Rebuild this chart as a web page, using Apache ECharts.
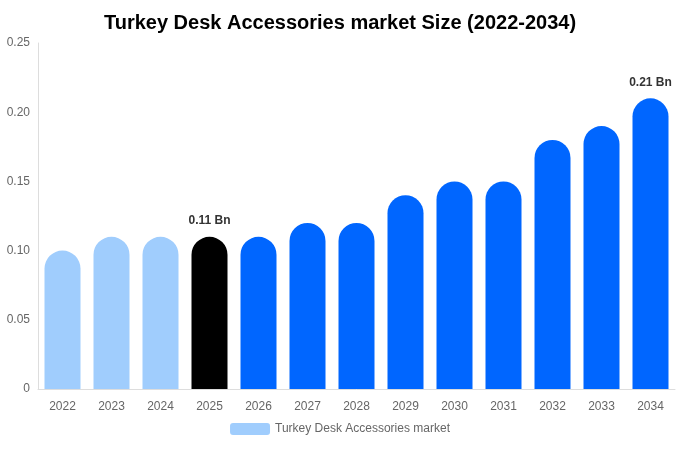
<!DOCTYPE html>
<html><head><meta charset="utf-8">
<script src="https://cdn.jsdelivr.net/npm/echarts@6/dist/echarts.min.js"></script>
<style>html,body{margin:0;padding:0;background:#fff}#c{width:680px;height:450px}</style>
</head><body><div id="c"></div>
<script>
const years = ['2022','2023','2024','2025','2026','2027','2028','2029','2030','2031','2032','2033','2034'];
const values = [0.10, 0.11, 0.11, 0.11, 0.11, 0.12, 0.12, 0.14, 0.15, 0.15, 0.18, 0.19, 0.21];
const labelled = { '2025': '0.11 Bn', '2034': '0.21 Bn' };

const colorFor = i => {
    if (i < 3) return '#a0cdfd';
    if (i === 3) return '#000000';
    return '#0066ff';
};

const chart = echarts.init(document.getElementById('c'));
chart.setOption({
    animation: false,
    title: {
        text: 'Turkey Desk Accessories market Size (2022-2034)',
        left: 'center', top: 8,
        textStyle: { fontSize: 20, fontWeight: 'bold', color: '#000', fontFamily: 'Liberation Sans' }
    },
    legend: {
        bottom: 10, left: 'center', itemWidth: 40, itemHeight: 12,
        textStyle: { color: '#666', fontSize: 12, fontFamily: 'Liberation Sans' },
        data: [{ name: 'Turkey Desk Accessories market', itemStyle: { color: '#a0cdfd' } }]
    },
    grid: { left: 38, right: 5, top: 43, bottom: 61 },
    xAxis: {
        type: 'category', data: years,
        axisLine: { lineStyle: { color: '#ddd' } },
        axisTick: { show: false },
        axisLabel: { color: '#666', fontSize: 12, margin: 12, fontFamily: 'Liberation Sans' }
    },
    yAxis: {
        type: 'value', min: 0, max: 0.25, interval: 0.05,
        axisLine: { show: true, lineStyle: { color: '#ddd' } },
        splitLine: { show: false },
        axisLabel: { color: '#666', fontSize: 12, fontFamily: 'Liberation Sans',
            formatter: v => v === 0 ? '0' : v.toFixed(2) }
    },
    series: [{
        name: 'Turkey Desk Accessories market',
        type: 'bar', barWidth: 36,
        data: values.map((v, i) => ({
            value: v,
            itemStyle: { color: colorFor(i), borderRadius: [18, 18, 0, 0] },
            label: {
                show: !!labelled[years[i]], position: 'top', distance: 10,
                formatter: labelled[years[i]] || '',
                fontWeight: 'bold', fontSize: 12, color: '#333', fontFamily: 'Liberation Sans'
            }
        }))
    }]
});
</script></body></html>
